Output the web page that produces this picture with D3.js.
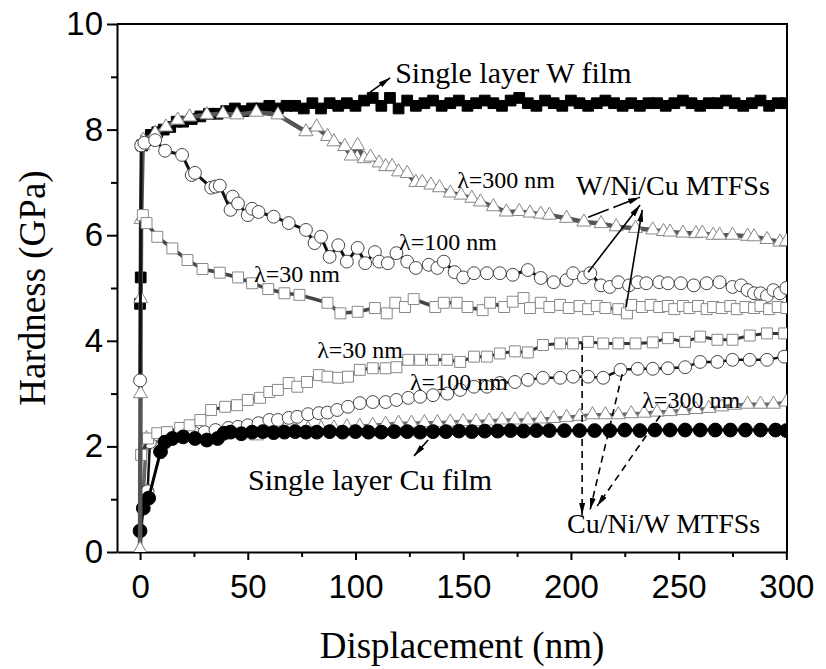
<!DOCTYPE html>
<html>
<head>
<meta charset="utf-8">
<script src="https://cdn.jsdelivr.net/npm/d3@7"></script>
<style>
    body { margin: 0; background: #fff; }
    svg { display: block; }
    .axis text { font-family: "Liberation Sans", Arial, sans-serif; font-size: 33px; fill: #000; }
    .axis path, .axis line { stroke: #000; stroke-width: 2; }
    .note { font-family: "Liberation Serif", "Times New Roman", serif; fill: #000; }
</style>
</head>
<body>
<svg id="chart" width="826" height="669"></svg>
<script>

// ticks
let xTicks = [0, 50, 100, 150, 200, 250, 300];
let xMinorTicks = [25, 75, 125, 175, 225, 275];
let yTicks = [0, 2, 4, 6, 8, 10];
let yMinorTicks = [1, 3, 5, 7, 9];

// [displacement nm, hardness GPa]
let wFilm = [[0,4.7],[0.3,5.2],[1,7.7],[3,7.8],[5,7.9],[8,7.95],[11,8.0],[14,8.05],[17,8.15],[20,8.15],[24,8.2],[28,8.25],[32,8.3],[36,8.3],[40,8.35],[44,8.4],[48,8.35],[52,8.4],[56,8.4],[60,8.45],[64,8.4],[68,8.45],[72,8.45],[76,8.4],[80,8.5],[84,8.4],[88,8.5],[92,8.45],[96,8.5],[100,8.45],[104,8.55],[108,8.6],[112,8.45],[116,8.6],[120,8.4],[124,8.55],[128,8.45],[132,8.5],[136,8.55],[140,8.45],[144,8.5],[148,8.55],[152,8.45],[156,8.5],[160,8.55],[164,8.5],[168,8.45],[172,8.55],[176,8.6],[180,8.5],[184,8.45],[188,8.55],[192,8.5],[196,8.45],[200,8.55],[204,8.5],[208,8.45],[212,8.5],[216,8.55],[220,8.5],[224,8.45],[228,8.5],[232,8.45],[236,8.5],[240,8.5],[244,8.45],[248,8.5],[252,8.55],[256,8.5],[260,8.45],[264,8.5],[268,8.5],[272,8.55],[276,8.5],[280,8.45],[284,8.5],[288,8.55],[292,8.45],[296,8.5],[300,8.5]];

let wncTri300 = [[0,0.05],[0.2,3.0],[0.3,4.8],[0.5,6.3],[1.2,7.7],[1.5,7.8],[7,7.93],[12,8.05],[17.5,8.18],[23,8.24],[31,8.28],[38.5,8.3],[45,8.28],[54,8.33],[64,8.28],[77,7.96],[82,8.05],[87,7.87],[90,7.77],[95,7.68],[98,7.5],[101,7.7],[104,7.45],[107,7.48],[111,7.37],[114,7.3],[117,7.3],[120,7.2],[124,7.17],[128,7.0],[131,7.0],[135,6.95],[139,6.9],[144,6.8],[149,6.76],[154,6.7],[158,6.63],[164,6.54],[170,6.44],[176,6.45],[181,6.42],[186,6.4],[190,6.38],[198,6.32],[206,6.25],[214,6.22],[221,6.16],[230,6.13],[238,6.1],[243,6.07],[246,6.06],[252,6.04],[258,6.03],[261,6.04],[266,6.0],[269,6.0],[275,6.0],[282,5.98],[285,5.97],[291,5.92],[297,5.87],[300,5.88]];

let wncCir100 = [[0,3.25],[0.5,7.7],[2,7.75],[7,7.8],[11.6,7.6],[19.5,7.52],[24,7.14],[25.5,7.18],[33,6.9],[35,6.92],[37,6.94],[42,6.48],[43,6.73],[45.5,6.6],[50,6.38],[52,6.5],[55,6.44],[62,6.35],[69,6.23],[77,6.1],[81,5.85],[84,5.97],[88,5.59],[92,5.81],[96,5.5],[101,5.76],[104.5,5.47],[109,5.68],[111,5.5],[115,5.47],[119,5.66],[124,5.5],[128,5.38],[134,5.44],[138,5.38],[141,5.5],[146,5.3],[150,5.2],[155,5.28],[161,5.28],[167,5.28],[173,5.25],[180,5.34],[186,5.19],[192,5.11],[198,5.15],[201,5.28],[206,5.2],[209,5.28],[214,5.05],[218,5.02],[222,5.11],[227,5.05],[231,5.11],[235,5.09],[241,5.11],[245,5.09],[251,5.09],[257,5.05],[263,5.09],[269,5.11],[275,5.02],[279,5.05],[282,4.96],[285,4.9],[288,4.9],[291,4.85],[294,4.96],[297,4.9],[300,5.0]];

let wncSq30 = [[1.3,6.38],[3,6.23],[8,5.97],[15,5.75],[22,5.53],[29,5.36],[37,5.29],[45.5,5.2],[52,5.09],[59.5,4.98],[67,4.9],[74,4.87],[87,4.72],[93,4.52],[101,4.55],[109,4.62],[114.5,4.52],[118.5,4.72],[123,4.64],[127,4.79],[137,4.64],[141,4.72],[147,4.72],[152,4.64],[159,4.58],[162.5,4.72],[169,4.64],[173,4.74],[178,4.81],[181,4.62],[186,4.72],[190,4.64],[195,4.68],[199,4.62],[204,4.66],[208,4.6],[212,4.66],[216,4.62],[222,4.6],[226,4.52],[228,4.68],[233,4.64],[237,4.68],[241,4.64],[245,4.66],[248,4.6],[252,4.66],[255,4.62],[259,4.66],[263,4.6],[266,4.64],[270,4.62],[274,4.66],[277,4.6],[281,4.64],[285,4.62],[288,4.66],[292,4.6],[296,4.64],[300,4.62]];

let cnwSq30 = [[0.5,1.84],[3.7,2.15],[8,2.25],[12.5,2.27],[18.6,2.35],[23,2.4],[28,2.5],[33,2.69],[39.5,2.75],[45,2.78],[50,2.88],[55.7,2.92],[60,3.03],[64,3.07],[69,3.2],[73,3.13],[77.5,3.22],[83,3.35],[87,3.32],[92,3.3],[96.5,3.32],[102,3.45],[108,3.48],[114,3.48],[119,3.5],[124.5,3.64],[130,3.64],[136,3.64],[142.6,3.64],[148.6,3.6],[155,3.7],[161,3.7],[167,3.76],[174,3.8],[180,3.78],[187,3.92],[195,3.95],[201,3.95],[208,3.98],[215,3.95],[222,3.95],[230,3.95],[238,3.97],[245,4.05],[253,3.98],[260,4.08],[268,4.02],[275,4.02],[283,4.1],[291,4.14],[299,4.14]];

let cnwCir100 = [[3.5,1.15],[4.6,2.08],[8.4,2.22],[13,2.24],[19.5,2.24],[25,2.26],[30,2.27],[35,2.31],[41,2.35],[45.5,2.37],[50,2.4],[55,2.44],[60,2.5],[64,2.5],[69,2.54],[73,2.56],[78,2.61],[83,2.63],[87,2.64],[91.5,2.69],[96.5,2.75],[102,2.82],[108,2.84],[114,2.84],[119,2.88],[124.5,2.92],[130,2.94],[136,2.97],[142.6,3.0],[148.6,3.07],[155,3.13],[161,3.13],[167,3.2],[174,3.22],[180,3.26],[187,3.3],[195,3.3],[201,3.32],[208,3.32],[215,3.3],[223,3.45],[231,3.47],[238,3.47],[245,3.48],[253,3.5],[260,3.6],[268,3.6],[275,3.64],[283,3.64],[291,3.64],[299,3.7]];

let cnwTri300 = [[0,0.05],[3,2.15],[7,2.2],[12,2.2],[18,2.22],[24,2.24],[30,2.25],[36,2.25],[42,2.27],[48,2.27],[54,2.2],[60,2.28],[66,2.3],[72,2.32],[78,2.33],[84,2.34],[90,2.35],[96,2.37],[102,2.38],[108,2.4],[114,2.42],[120,2.44],[126,2.44],[132,2.45],[138,2.45],[144,2.46],[150,2.47],[156,2.47],[162,2.48],[168,2.5],[174,2.5],[180,2.5],[186,2.52],[192,2.53],[198,2.55],[204,2.57],[210,2.6],[216,2.6],[222,2.6],[228,2.62],[234,2.63],[240,2.65],[246,2.66],[252,2.68],[258,2.7],[264,2.72],[270,2.75],[276,2.78],[282,2.8],[288,2.8],[294,2.8],[300,2.84]];

let cuFilm = [[0,0.4],[1.5,0.83],[4,1.02],[9.5,1.9],[11.5,2.08],[15,2.15],[20,2.18],[25.5,2.15],[31,2.12],[36,2.15],[39,2.25],[42,2.27],[47,2.24],[52,2.27],[57,2.28],[62,2.26],[67,2.27],[72,2.28],[77,2.27],[82,2.27],[88,2.28],[94,2.27],[100,2.28],[106,2.27],[112,2.27],[118,2.28],[124,2.28],[130,2.27],[136,2.28],[142,2.28],[148,2.29],[154,2.28],[160,2.29],[166,2.29],[172,2.3],[178,2.29],[184,2.3],[190,2.3],[197,2.3],[204,2.3],[211,2.3],[218,2.3],[225,2.31],[232,2.3],[239,2.31],[246,2.31],[253,2.31],[260,2.31],[267,2.31],[274,2.31],[281,2.31],[288,2.31],[295,2.31],[300,2.3]];

// labels inside the plot, anchored in data units
let notes = [
    {text: "Single layer W film", x: 118.4, y: 8.88, size: 30},
    {text: "λ=300 nm", x: 147.2, y: 6.89, size: 24},
    {text: "W/Ni/Cu MTFSs", x: 202.4, y: 6.76, size: 28},
    {text: "λ=100 nm", x: 120.2, y: 5.72, size: 24},
    {text: "λ=30 nm", x: 52.9, y: 5.11, size: 24},
    {text: "λ=30 nm", x: 82.2, y: 3.67, size: 24},
    {text: "λ=100 nm", x: 125.3, y: 3.07, size: 24},
    {text: "λ=300 nm", x: 233.1, y: 2.73, size: 24},
    {text: "Single layer Cu film", x: 50.1, y: 1.17, size: 30},
    {text: "Cu/Ni/W MTFSs", x: 198.2, y: 0.36, size: 28}
];

// arrows [x1, y1, x2, y2], head at the second point
let solidArrows = [[106.8,8.71,116.1,8.98],[208,5.30,232.1,6.57],[225.6,4.64,233.1,6.48],[133.7,2.12,127.2,1.82]];
let brokenArrows = [[208,6.34,232.1,6.72]];
let dashedArrows = [[205.2,3.96,205.2,0.70],[223.8,3.37,208.9,0.80],[241.4,2.58,212.2,0.87]];

let margin = {top: 24, right: 39, bottom: 117, left: 117},
    width = 826 - margin.left - margin.right,
    height = 669 - margin.top - margin.bottom;

let svg = d3.select("#chart");
let g = svg.append("g")
    .attr("transform", "translate(" + margin.left + "," + margin.top + ")");

let x = d3.scaleLinear().domain([-10.7, 300.3]).range([0, width]);
let y = d3.scaleLinear().domain([0, 10]).range([height, 0]);

let defs = svg.append("defs");
defs.append("clipPath").attr("id", "plotClip")
    .append("rect").attr("width", width).attr("height", height);

defs.append("marker")
    .attr("id", "head")
    .attr("viewBox", "0 0 12 6")
    .attr("refX", 12).attr("refY", 3)
    .attr("markerWidth", 12).attr("markerHeight", 6)
    .attr("markerUnits", "userSpaceOnUse")
    .attr("orient", "auto")
    .append("path").attr("d", "M0,0L12,3L0,6Z").attr("fill", "#000");

// axes
g.append("g").attr("class", "axis")
    .attr("transform", "translate(0," + height + ")")
    .call(d3.axisBottom(x).tickValues(xTicks).tickSize(8).tickSizeOuter(0).tickPadding(15));
g.append("g").attr("class", "axis")
    .attr("transform", "translate(0," + height + ")")
    .call(d3.axisBottom(x).tickValues(xMinorTicks).tickSize(5).tickSizeOuter(0).tickFormat(""))
    .select(".domain").remove();

g.append("g").attr("class", "axis")
    .call(d3.axisLeft(y).tickValues(yTicks).tickSize(10).tickSizeOuter(0).tickPadding(4));
g.append("g").attr("class", "axis")
    .call(d3.axisLeft(y).tickValues(yMinorTicks).tickSize(6).tickSizeOuter(0).tickFormat(""))
    .select(".domain").remove();

// top and right frame
g.append("path")
    .attr("d", "M0,0H" + width + "V" + height)
    .attr("fill", "none").attr("stroke", "#000").attr("stroke-width", 2);

let plot = g.append("g").attr("clip-path", "url(#plotClip)");

let line = d3.line()
    .x(function(d) { return x(d[0]); })
    .y(function(d) { return y(d[1]); });

function drawSeries(data, opts) {
    plot.append("path")
        .datum(data)
        .attr("d", line)
        .attr("fill", "none")
        .attr("stroke", opts.lineColor)
        .attr("stroke-width", opts.lineWidth)
        .attr("stroke-linejoin", "round");

    let sym = d3.symbol().type(opts.shape).size(opts.size);
    plot.append("g").selectAll("path")
        .data(data)
        .enter().append("path")
        .attr("d", sym)
        .attr("transform", function(d) {
            return "translate(" + x(d[0]) + "," + y(d[1]) + ")";
        })
        .attr("fill", opts.fill)
        .attr("stroke", opts.stroke)
        .attr("stroke-width", 1);
}

// Cu/Ni/W and Cu film first, W side on top
drawSeries(cnwTri300, {shape: d3.symbolTriangle, size: 85, fill: "#fff", stroke: "#888", lineColor: "#666", lineWidth: 3.5});
drawSeries(cnwCir100, {shape: d3.symbolCircle, size: 130, fill: "#fff", stroke: "#444", lineColor: "#111", lineWidth: 2.5});
drawSeries(cnwSq30, {shape: d3.symbolSquare, size: 120, fill: "#fff", stroke: "#888", lineColor: "#333", lineWidth: 3});
drawSeries(cuFilm, {shape: d3.symbolCircle, size: 150, fill: "#000", stroke: "#000", lineColor: "#000", lineWidth: 3});
drawSeries(wFilm, {shape: d3.symbolSquare, size: 115, fill: "#000", stroke: "#000", lineColor: "#000", lineWidth: 3});
drawSeries(wncTri300, {shape: d3.symbolTriangle, size: 85, fill: "#fff", stroke: "#888", lineColor: "#555", lineWidth: 4.5});
drawSeries(wncCir100, {shape: d3.symbolCircle, size: 130, fill: "#fff", stroke: "#444", lineColor: "#111", lineWidth: 3});
drawSeries(wncSq30, {shape: d3.symbolSquare, size: 120, fill: "#fff", stroke: "#888", lineColor: "#444", lineWidth: 3.5});

// arrows
function drawArrows(list, dash) {
    g.append("g").selectAll("line")
        .data(list)
        .enter().append("line")
        .attr("x1", function(d) { return x(d[0]); })
        .attr("y1", function(d) { return y(d[1]); })
        .attr("x2", function(d) { return x(d[2]); })
        .attr("y2", function(d) { return y(d[3]); })
        .attr("stroke", "#000")
        .attr("stroke-width", 1.6)
        .attr("stroke-dasharray", dash)
        .attr("marker-end", "url(#head)");
}
drawArrows(solidArrows, null);
drawArrows(brokenArrows, "22,5");
drawArrows(dashedArrows, "7,5");

// notes
g.append("g").selectAll("text")
    .data(notes)
    .enter().append("text")
    .attr("class", "note")
    .attr("x", function(d) { return x(d.x); })
    .attr("y", function(d) { return y(d.y); })
    .style("font-size", function(d) { return d.size + "px"; })
    .text(function(d) { return d.text; });

// axis titles
svg.append("text")
    .attr("class", "note")
    .attr("x", margin.left + width / 2 + 10)
    .attr("y", 658)
    .attr("text-anchor", "middle")
    .style("font-size", "37px")
    .text("Displacement (nm)");

svg.append("text")
    .attr("class", "note")
    .attr("transform", "translate(45," + (margin.top + height / 2) + ") rotate(-90)")
    .attr("text-anchor", "middle")
    .style("font-size", "37px")
    .text("Hardness (GPa)");

</script>
</body>
</html>
